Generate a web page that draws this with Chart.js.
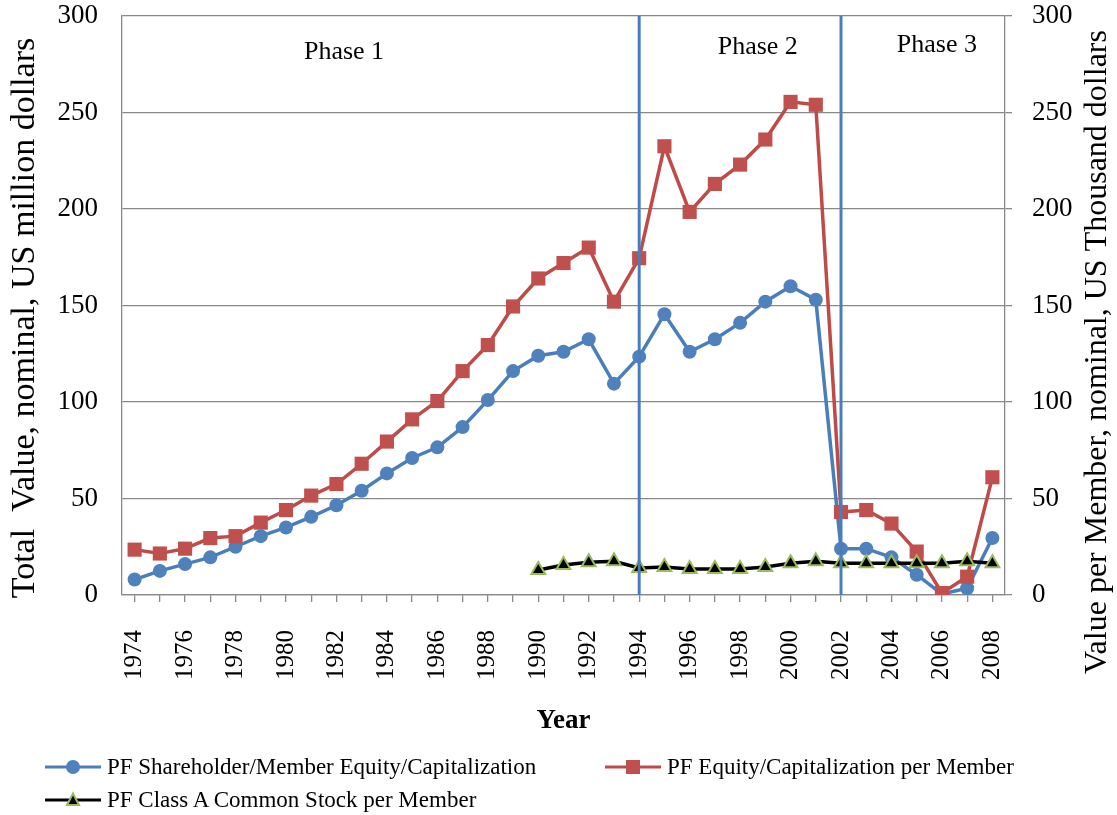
<!DOCTYPE html>
<html>
<head>
<meta charset="utf-8">
<script src="https://cdn.jsdelivr.net/npm/chart.js@4"></script>
<style>
  body { margin: 0; background: #fff; }
  #wrap { position: relative; width: 1117px; height: 815px; }
  #legend { position: absolute; left: 45px; top: 750px; width: 1060px;
    font-family: "Liberation Serif", "Times New Roman", serif; font-size: 23px; color: #000;
    display: flex; flex-wrap: wrap; }
  .item { display: flex; align-items: center; height: 33px; }
  .item svg { margin-right: 6px; }
</style>
</head>
<body>
<div id="wrap">
  <canvas id="grafico"></canvas>
  <div id="legend"></div>
</div>
<script>
const years = ['1974','1975','1976','1977','1978','1979','1980','1981','1982','1983','1984','1985',
  '1986','1987','1988','1989','1990','1991','1992','1993','1994','1995','1996','1997','1998','1999',
  '2000','2001','2002','2003','2004','2005','2006','2007','2008'];

// US million dollars (left axis)
const equityTotal = [8, 12.5, 16, 19.5, 25, 30.5, 35, 40.5, 46.5, 54, 63, 71, 76.5, 87, 101, 116,
  124, 126, 132.5, 109.5, 123.5, 145.5, 126, 132.5, 141, 152, 160, 153, 24, 24, 19.5, 10.5, 0.5, 3.5, 29.5];

// US thousand dollars (right axis)
const equityPerMember = [23.5, 21.5, 24, 29.5, 30.5, 37.5, 44, 51.5, 57.5, 68, 79.5, 91, 100.5, 116, 129.5,
  149.5, 164, 172, 180, 152, 174.5, 232.5, 198.5, 213, 223, 236, 255.5, 254, 43, 44, 37, 22.5, 1, 9.5, 61];

const classAStock = [null, null, null, null, null, null, null, null, null, null, null, null, null, null, null, null,
  13, 15.5, 17, 17.5, 14, 14.5, 13.5, 13.5, 13.5, 14.5, 16.5, 17.5, 16.5, 16.5, 16.5, 16.5, 16.5, 17.5, 16.5];

const yTicks = [0, 50, 100, 150, 200, 250, 300];
const phaseBreaks = ['1994', '2002'];
const phaseNames = ['Phase 1', 'Phase 2', 'Phase 3'];
const phaseSpots = [[8.3, 281], [24.7, 284], [31.8, 285]];

const serif = '"Liberation Serif", "Times New Roman", serif';
const gray = '#898989';
const blue = '#4A7EBB';
const red = '#BE4B48';

function sideTitle(ctx, text, size, x, y) {
  ctx.save();
  ctx.fillStyle = '#000';
  ctx.font = size + 'px ' + serif;
  ctx.textAlign = 'center';
  ctx.textBaseline = 'middle';
  ctx.translate(x, y);
  ctx.rotate(-Math.PI / 2);
  ctx.fillText(text, 0, 0);
  ctx.restore();
}

const extras = {
  id: 'extras',
  afterDatasetsDraw(chart) {
    const {ctx, chartArea, scales} = chart;
    ctx.save();
    ctx.strokeStyle = blue;
    ctx.lineWidth = 3;
    phaseBreaks.forEach(yr => {
      const px = scales.x.getPixelForValue(years.indexOf(yr));
      ctx.beginPath();
      ctx.moveTo(px, chartArea.top);
      ctx.lineTo(px, chartArea.bottom);
      ctx.stroke();
    });
    ctx.fillStyle = '#000';
    ctx.font = '26px ' + serif;
    ctx.textAlign = 'center';
    ctx.textBaseline = 'middle';
    phaseNames.forEach((name, i) => {
      ctx.fillText(name, scales.x.getPixelForValue(phaseSpots[i][0]), scales.y.getPixelForValue(phaseSpots[i][1]));
    });
    ctx.restore();
  },
  afterDraw(chart) {
    sideTitle(chart.ctx, 'Total  Value, nominal, US million dollars', 34, 25, 318);
    sideTitle(chart.ctx, 'Value per Member, nominal, US Thousand dollars', 32, 1098, 352);
  }
};

const canvas = document.getElementById('grafico');
canvas.width = 1117;
canvas.height = 815;

const fitY = w => s => { s.width = w; s.paddingTop = 0; s.paddingBottom = 0; };

new Chart(canvas, {
  type: 'line',
  data: {
    labels: years,
    datasets: [{
      label: 'PF Shareholder/Member Equity/Capitalization',
      data: equityTotal,
      yAxisID: 'y',
      borderColor: blue,
      backgroundColor: '#4F81BD',
      borderWidth: 3.5,
      pointStyle: 'circle',
      pointRadius: 7,
      pointBorderWidth: 0,
      order: 3
    }, {
      label: 'PF Equity/Capitalization per Member',
      data: equityPerMember,
      yAxisID: 'y1',
      borderColor: red,
      backgroundColor: '#C0504D',
      borderWidth: 3.5,
      pointStyle: 'rect',
      pointRadius: 10,
      pointBorderWidth: 0,
      order: 2
    }, {
      label: 'PF Class A Common Stock per Member',
      data: classAStock,
      yAxisID: 'y1',
      borderColor: '#000',
      backgroundColor: '#000',
      borderWidth: 3.5,
      pointStyle: 'triangle',
      pointRadius: 8,
      pointBorderColor: '#9BBB59',
      pointBorderWidth: 2,
      order: 1
    }]
  },
  options: {
    responsive: false,
    animation: false,
    layout: { padding: { top: 16, left: 0, right: 0, bottom: 70 } },
    plugins: {
      legend: { display: false },
      tooltip: { enabled: false }
    },
    elements: { line: { tension: 0 } },
    scales: {
      x: {
        offset: true,
        grid: { display: true, drawOnChartArea: false, drawTicks: true, tickLength: 7, color: gray, lineWidth: 1.3, offset: false },
        border: { color: gray, width: 1.3 },
        ticks: {
          autoSkip: false, minRotation: 90, maxRotation: 90, padding: 28, color: '#000',
          font: { family: serif, size: 25 },
          callback: (v, i) => i % 2 === 0 ? years[i] : ''
        },
        title: { display: true, text: 'Year', color: '#000', font: { family: serif, size: 27, weight: 'bold' }, padding: { top: 0, bottom: 8 } },
        afterFit: s => { s.height = 150; s.paddingLeft = 0; s.paddingRight = 0; }
      },
      y: {
        position: 'left',
        min: 0, max: 300,
        afterBuildTicks: s => { s.ticks = yTicks.map(v => ({ value: v })); },
        grid: { color: gray, lineWidth: 1.3, drawTicks: false },
        border: { color: gray, width: 1.3 },
        ticks: { padding: 24, color: '#000', font: { family: serif, size: 27 } },
        afterFit: fitY(122)
      },
      y1: {
        position: 'right',
        min: 0, max: 300,
        afterBuildTicks: s => { s.ticks = yTicks.map(v => ({ value: v })); },
        grid: { drawOnChartArea: false, drawTicks: true, tickLength: 7, color: gray, lineWidth: 1.3 },
        border: { color: gray, width: 1.3 },
        ticks: { padding: 20, color: '#000', font: { family: serif, size: 27 } },
        afterFit: fitY(112)
      }
    }
  },
  plugins: [extras]
});

// legend in html, Excel style line + marker
const legendItems = [
  { text: 'PF Shareholder/Member Equity/Capitalization', line: blue,
    mark: '<circle cx="28" cy="10" r="7" fill="#4F81BD"/>', width: 560 },
  { text: 'PF Equity/Capitalization per Member', line: red,
    mark: '<rect x="21" y="3" width="14" height="14" fill="#C0504D"/>' },
  { text: 'PF Class A Common Stock per Member', line: '#000',
    mark: '<polygon points="28,3.5 34,15 22,15" fill="#000" stroke="#9BBB59" stroke-width="2"/>' }
];
const legend = document.getElementById('legend');
legendItems.forEach(it => {
  const d = document.createElement('div');
  d.className = 'item';
  if (it.width) d.style.width = it.width + 'px';
  d.innerHTML = '<svg width="56" height="20"><line x1="0" y1="10" x2="56" y2="10" stroke="' + it.line +
    '" stroke-width="3"/>' + it.mark + '</svg><span>' + it.text + '</span>';
  legend.appendChild(d);
  if (it.width === undefined && legend.children.length === 2) {
    const br = document.createElement('div');
    br.style.flexBasis = '100%';
    legend.appendChild(br);
  }
});
</script>
</body>
</html>
